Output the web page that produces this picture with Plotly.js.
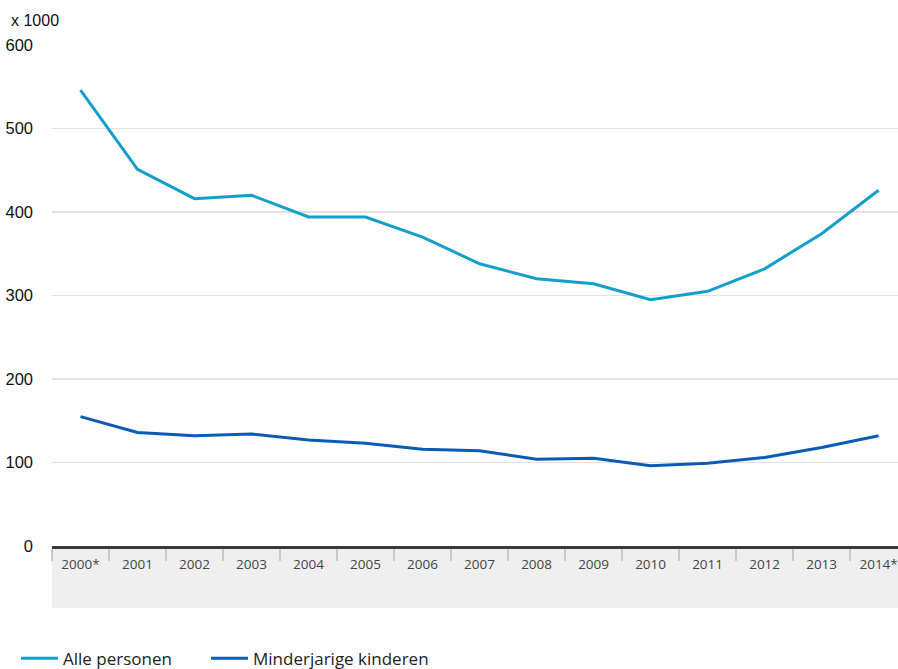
<!DOCTYPE html>
<html>
<head>
<meta charset="utf-8">
<script src="https://cdn.plot.ly/plotly-3.0.1.min.js"></script>
<style>html,body{margin:0;padding:0;background:#fff;}#chart{width:898px;height:669px;}</style>
</head>
<body>
<div id="chart"></div>
<script>
const years = ["2000*","2001","2002","2003","2004","2005","2006","2007","2008","2009","2010","2011","2012","2013","2014*"];
const allePersonen = [546,451,416,420,394,394,370,338,320,314,295,305,332,374,426];
const minderjarigeKinderen = [155,136,132,134,127,123,116,114,104,105,96,99,106,118,132];
const yTicks = [0,100,200,300,400,500,600];
const seriesNames = ["Alle personen","Minderjarige kinderen"];

const traces = [
  {x: years, y: allePersonen, name: seriesNames[0], type: "scatter", mode: "lines",
   line: {color: "#149fca", width: 3}, legend: "legend"},
  {x: years, y: minderjarigeKinderen, name: seriesNames[1], type: "scatter", mode: "lines",
   line: {color: "#0a5bb5", width: 3}, legend: "legend2"}
];

const legendBase = {orientation: "h", xref: "container", yref: "container", y: 0.0155,
  xanchor: "left", yanchor: "middle", font: {family: "Open Sans", size: 17, color: "#222"},
  itemwidth: 37, bgcolor: "rgba(0,0,0,0)"};

const layout = {
  width: 898, height: 669,
  margin: {l: 52, r: 0, t: 45, b: 123, pad: 0},
  paper_bgcolor: "#fff", plot_bgcolor: "#fff",
  showlegend: true,
  legend: Object.assign({}, legendBase, {x: 0.0178}),
  legend2: Object.assign({}, legendBase, {x: 0.2294}),
  xaxis: {type: "category", range: [-0.5, 14.34], fixedrange: true,
          showline: true, linecolor: "#3a3a3a", linewidth: 3,
          ticks: "outside", tickson: "boundaries", ticklen: 12, tickwidth: 2, tickcolor: "#c9c9c9",
          showgrid: false, zeroline: false, ticklabelstandoff: 4,
          tickfont: {family: "Open Sans", size: 13.5, color: "#444"}},
  yaxis: {range: [0, 600], tickvals: yTicks, ticktext: yTicks.map(String),
          showgrid: true, gridcolor: "#e2e2e2", gridwidth: 1.5, zeroline: false,
          showline: false, ticks: "", ticklabelstandoff: 18,
          tickfont: {family: "Liberation Sans, Arial", size: 16.5, color: "#111"}},
  shapes: [
    {type: "rect", xref: "paper", yref: "paper", x0: 0, x1: 1, y0: -0.1238, y1: 0,
     fillcolor: "#efefef", line: {width: 0}, layer: "below"}
  ],
  annotations: [
    {text: "x 1000", xref: "paper", yref: "paper", x: -0.0508, y: 1.0499, xanchor: "left", yanchor: "middle",
     showarrow: false, font: {family: "Liberation Sans, Arial", size: 16, color: "#111"}}
  ]
};

Plotly.newPlot("chart", traces, layout, {displayModeBar: false, staticPlot: true});
</script>
</body>
</html>
